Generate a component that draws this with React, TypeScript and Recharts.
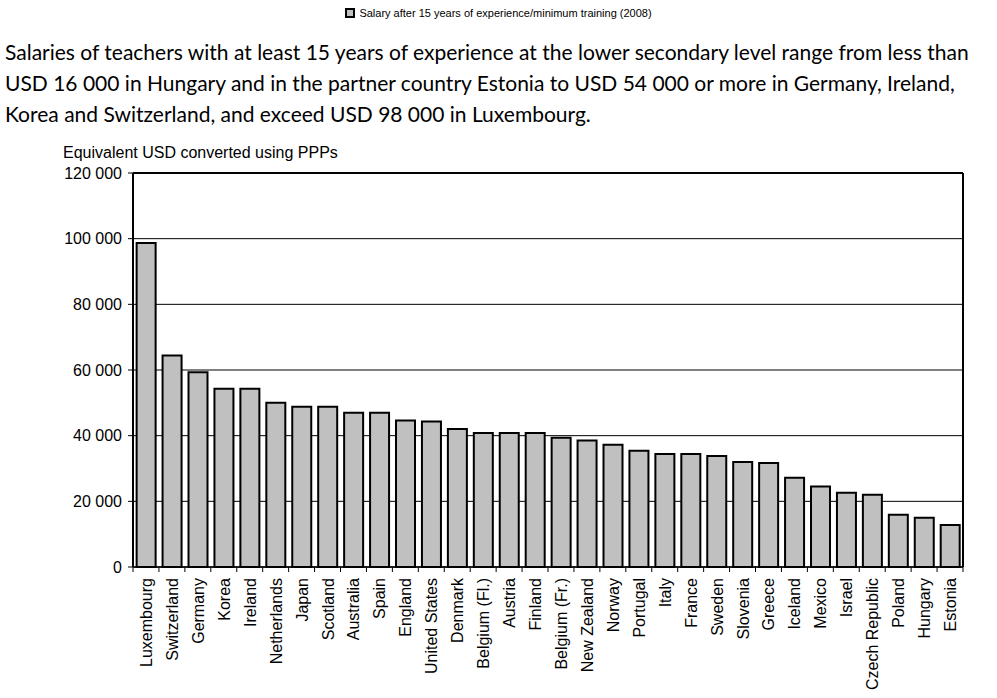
import React from 'react';
import {
   BarChart,
   Bar,
   XAxis,
   YAxis,
   CartesianGrid,
   ReferenceLine,
} from 'recharts';

const countries = [
   'Luxembourg', 'Switzerland', 'Germany', 'Korea', 'Ireland', 'Netherlands',
   'Japan', 'Scotland', 'Australia', 'Spain', 'England', 'United States',
   'Denmark', 'Belgium (Fl.)', 'Austria', 'Finland', 'Belgium (Fr.)',
   'New Zealand', 'Norway', 'Portugal', 'Italy', 'France', 'Sweden',
   'Slovenia', 'Greece', 'Iceland', 'Mexico', 'Israel', 'Czech Republic',
   'Poland', 'Hungary', 'Estonia',
];

const salary15 = [
   98700, 64400, 59300, 54300, 54300, 50000, 48800, 48800, 47000, 47000,
   44600, 44300, 42000, 40800, 40800, 40800, 39400, 38500, 37200, 35400,
   34400, 34400, 33800, 32000, 31700, 27200, 24500, 22600, 22000, 15900,
   15000, 12800,
];

const yTicks = [0, 20000, 40000, 60000, 80000, 100000, 120000];

const legendLabel =
   'Salary after 15 years of experience/minimum training (2008)';
const yAxisTitle = 'Equivalent USD converted using PPPs';
const introLines = [
   'Salaries of teachers with at least 15 years of experience at the lower secondary level range from less than',
   'USD 16 000 in Hungary and in the partner country Estonia to USD 54 000 or more in Germany, Ireland,',
   'Korea and Switzerland, and exceed USD 98 000 in Luxembourg.',
];

const chartData = countries.map((name, i) => ({ name, salary: salary15[i] }));

const PLOT_LEFT = 133;
const PLOT_RIGHT = 963;
const PLOT_TOP = 173;
const PLOT_BOTTOM = 567;
const STEP = (PLOT_RIGHT - PLOT_LEFT) / countries.length;
const AXIS_FONT = "'Liberation Sans', Arial, sans-serif";

const fmt = (v: number) =>
   v === 0 ? '0' : `${Math.floor(v / 1000)} ${String(v % 1000).padStart(3, '0')}`;

const CountryTick = ({ x, y, payload, index }: any) => {
   const left = x - STEP / 2;
   return (
      <g>
         <line x1={left} y1={y} x2={left} y2={y + 5} stroke="#000" strokeWidth={1} />
         {index === countries.length - 1 && (
            <line x1={x + STEP / 2} y1={y} x2={x + STEP / 2} y2={y + 5} stroke="#000" strokeWidth={1} />
         )}
         <text
            x={x + 6}
            y={y + 11}
            transform={`rotate(-90 ${x + 6} ${y + 11})`}
            textAnchor="end"
            fontSize={16}
            fontFamily={AXIS_FONT}
            fill="#000"
         >
            {payload.value}
         </text>
      </g>
   );
};

const App = () => {
   return (
      <div
         style={{
            position: 'absolute',
            left: 0,
            top: 0,
            width: 997,
            height: 698,
            background: '#fff',
            fontFamily: AXIS_FONT,
         }}
      >
         <div
            style={{
               position: 'absolute',
               top: 6,
               left: 0,
               width: 997,
               textAlign: 'center',
               fontSize: 11,
               lineHeight: '14px',
               color: '#000',
            }}
         >
            <span
               style={{
                  display: 'inline-block',
                  width: 6,
                  height: 6,
                  background: '#C0C0C0',
                  border: '2px solid #000',
                  marginRight: 4,
                  verticalAlign: '-1px',
               }}
            />
            {legendLabel}
         </div>

         <div
            style={{
               position: 'absolute',
               top: 36,
               left: 5,
               fontFamily: "Lato, 'Open Sans', sans-serif",
               fontSize: 21,
               lineHeight: '31px',
               whiteSpace: 'nowrap',
               color: '#000',
            }}
         >
            {introLines.map((line) => (
               <div key={line}>{line}</div>
            ))}
         </div>

         <div
            style={{
               position: 'absolute',
               top: 144,
               left: 63,
               fontSize: 16,
               color: '#000',
            }}
         >
            {yAxisTitle}
         </div>

         <div style={{ position: 'absolute', left: 0, top: 0 }}>
            <BarChart
               width={997}
               height={698}
               data={chartData}
               margin={{ top: PLOT_TOP, right: 997 - PLOT_RIGHT - 10, left: 0, bottom: 0 }}
               barCategoryGap="14%"
            >
               <CartesianGrid
                  horizontal
                  vertical={false}
                  stroke="#000"
                  strokeWidth={1}
                  strokeDasharray="0"
               />
               <XAxis
                  dataKey="name"
                  interval={0}
                  height={698 - PLOT_BOTTOM}
                  tickSize={0}
                  tickMargin={0}
                  tickLine={false}
                  axisLine={{ stroke: '#000', strokeWidth: 1.5 }}
                  tick={<CountryTick />}
               />
               <YAxis
                  width={PLOT_LEFT}
                  domain={[0, 120000]}
                  ticks={yTicks}
                  interval={0}
                  tickSize={5}
                  tickMargin={6}
                  tickFormatter={fmt}
                  tick={{ fontSize: 16, fill: '#000', fontFamily: AXIS_FONT }}
                  tickLine={{ stroke: '#000' }}
                  axisLine={{ stroke: '#000', strokeWidth: 2 }}
               />
               <YAxis
                  yAxisId="frame"
                  orientation="right"
                  width={10}
                  tick={false}
                  tickLine={false}
                  axisLine={{ stroke: '#000', strokeWidth: 2 }}
               />
               <ReferenceLine y={120000} stroke="#000" strokeWidth={2} />
               <Bar
                  dataKey="salary"
                  fill="#C0C0C0"
                  stroke="#000"
                  strokeWidth={2}
                  isAnimationActive={false}
               />
            </BarChart>
         </div>
      </div>
   );
};

export default App;
